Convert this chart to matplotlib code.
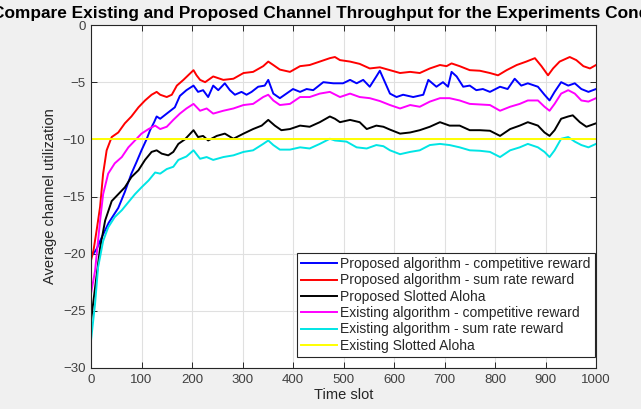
import numpy as np
import matplotlib
matplotlib.use("Agg")
import matplotlib.pyplot as plt

plt.rcParams['font.family'] = ['Liberation Sans', 'DejaVu Sans']

# ---- averaged channel utilization per time slot ----
t_red = [0, 5, 11, 18, 24, 31, 41, 54, 67, 80, 94, 107, 120, 130, 137, 150, 160, 170, 183,
         203, 209, 216, 226, 242, 262, 282, 302, 321, 341, 351, 361, 374, 394, 414, 433, 453,
         473, 483, 493, 513, 532, 552, 572, 592, 612, 632, 651, 671, 691, 704, 714, 730, 750,
         770, 790, 806, 823, 843, 862, 879, 892, 905, 915, 928, 948, 961, 975, 988, 1000]
prop_sum_rate = [-20.6, -19.7, -18.0, -15.9, -13.0, -10.96, -9.8, -9.4, -8.6, -8.0, -7.2, -6.6,
                 -6.1, -5.85, -6.1, -6.3, -6.1, -5.3, -4.8,
                 -3.95, -4.4, -4.8, -5.0, -4.5, -4.8, -4.7, -4.2, -4.1, -3.6, -3.2, -3.5, -3.9,
                 -4.1, -3.6, -3.5, -3.2, -2.9, -2.8, -3.07, -3.2, -3.4, -3.8, -3.7, -3.95, -4.2,
                 -4.1, -4.2, -3.8, -3.5, -3.6, -3.36, -3.6, -3.95, -4.0, -4.2, -4.4, -3.95, -3.5,
                 -3.2, -2.9, -3.6, -4.4, -3.8, -3.2, -2.8, -3.07, -3.6, -3.8, -3.5]

t_blue = [0, 5, 11, 21, 35, 54, 67, 80, 90, 100, 110, 117, 125, 130, 137, 150, 166, 176, 189,
          203, 212, 222, 232, 242, 252, 265, 275, 285, 298, 308, 318, 331, 344, 351, 361, 374,
          387, 400, 414, 427, 440, 460, 480, 499, 513, 526, 539, 552, 565, 572, 582, 592, 605,
          618, 638, 658, 668, 684, 697, 707, 714, 724, 737, 750, 763, 776, 790, 810, 825, 839,
          852, 865, 885, 898, 908, 918, 931, 945, 958, 971, 985, 1000]
prop_competitive = [-20.2, -20.0, -19.6, -18.6, -17.3, -16.0, -14.6, -13.0, -12.0, -10.96, -10.0,
                    -9.2, -8.5, -8.0, -8.2, -7.75, -7.2, -6.2, -5.7,
                    -5.3, -5.85, -5.7, -6.3, -5.3, -5.7, -5.1, -5.7, -6.1, -5.85, -6.1, -5.85,
                    -5.4, -5.3, -4.8, -6.0, -6.4, -6.0, -5.6, -5.85, -5.6, -5.7, -5.0, -5.1,
                    -5.1, -4.8, -5.1, -4.8, -5.4, -4.5, -4.0, -5.0, -6.0, -6.3, -6.1, -6.3, -6.1,
                    -4.8, -5.4, -5.0, -5.4, -4.1, -4.5, -5.4, -5.3, -5.7, -5.6, -5.85, -5.4,
                    -5.6, -4.7, -5.3, -5.1, -5.4, -6.1, -6.6, -5.85, -5.0, -5.3, -5.1, -5.6,
                    -5.85, -5.6]

t_black = [0, 8, 18, 28, 41, 54, 67, 80, 94, 107, 120, 130, 140, 153, 163, 173, 186, 203, 212,
           222, 232, 249, 265, 282, 302, 321, 338, 351, 364, 377, 394, 414, 433, 453, 473, 483,
           493, 513, 532, 546, 565, 579, 592, 612, 632, 651, 671, 691, 710, 730, 750, 770, 790,
           810, 830, 849, 865, 885, 898, 908, 918, 931, 945, 954, 968, 981, 1000]
prop_aloha = [-25.9, -23.0, -19.5, -17.1, -15.4, -14.8, -14.2, -13.3, -12.7, -11.8, -11.1, -10.96,
              -11.25, -11.4, -11.1, -10.4, -10.0, -9.2, -9.8, -9.7, -10.1, -9.7, -9.5, -9.95,
              -9.5, -9.1, -8.8, -8.3, -8.8, -9.2, -9.1, -8.8, -8.9, -8.5, -8.0, -8.2, -8.5, -8.3,
              -8.5, -9.1, -8.8, -8.9, -9.15, -9.5, -9.4, -9.2, -8.9, -8.5, -8.8, -8.8, -9.2,
              -9.2, -9.25, -9.7, -9.1, -8.8, -8.5, -8.8, -9.4, -9.7, -9.2, -8.2, -8.0, -7.9,
              -8.5, -8.9, -8.6]

t_mag = [0, 8, 18, 24, 34, 47, 61, 74, 87, 100, 114, 127, 137, 150, 163, 176, 189, 203, 216,
         229, 242, 262, 282, 302, 321, 341, 351, 361, 374, 394, 414, 433, 453, 473, 493, 513,
         532, 552, 572, 592, 612, 632, 651, 671, 691, 710, 730, 750, 770, 790, 810, 830, 849,
         865, 885, 898, 908, 918, 931, 945, 958, 971, 985, 1000]
exist_competitive = [-23.5, -21.5, -17.1, -14.8, -13.0, -12.1, -11.55, -10.7, -10.1, -9.5, -9.1,
                     -8.8, -9.1, -8.9, -8.3, -7.75, -7.3, -6.9, -7.5, -7.3, -7.75, -7.5, -7.3,
                     -7.0, -6.9, -6.3, -6.1, -6.6, -7.0, -6.9, -6.3, -6.3, -6.0, -5.85, -6.3,
                     -6.0, -6.3, -6.4, -6.65, -7.0, -7.3, -7.0, -7.15, -6.7, -6.4, -6.4, -6.6,
                     -6.9, -6.95, -7.0, -7.5, -7.15, -6.9, -6.6, -6.6, -7.15, -7.5, -6.9, -6.0,
                     -5.7, -6.0, -6.6, -6.7, -6.4]

t_cyan = [0, 8, 14, 24, 34, 47, 61, 74, 87, 100, 114, 127, 137, 150, 163, 173, 189, 203, 216,
          229, 242, 262, 282, 302, 321, 341, 351, 361, 374, 394, 414, 433, 453, 473, 483, 506,
          526, 546, 565, 579, 592, 612, 632, 651, 671, 691, 710, 730, 750, 770, 790, 810, 830,
          849, 865, 885, 898, 908, 918, 931, 945, 958, 971, 985, 1000]
exist_sum_rate = [-27.6, -24.4, -21.2, -18.9, -17.7, -16.8, -16.2, -15.5, -14.8, -14.2, -13.6,
                  -12.9, -13.0, -12.6, -12.4, -11.8, -11.5, -10.96, -11.7, -11.55, -11.8,
                  -11.55, -11.4, -11.1, -10.96, -10.4, -10.1, -10.5, -10.9, -10.9, -10.7,
                  -10.8, -10.4, -9.95, -10.1, -10.2, -10.7, -10.8, -10.5, -10.6, -10.96,
                  -11.3, -11.1, -10.96, -10.5, -10.4, -10.5, -10.7, -10.96, -11.0, -11.1,
                  -11.55, -10.96, -10.7, -10.4, -10.7, -11.1, -11.55, -10.96, -9.95, -9.8,
                  -10.2, -10.5, -10.7, -10.4]

t_yellow = [0, 1000]
exist_aloha = [-10, -10]

labels = ['Proposed algorithm - competitive reward',
          'Proposed algorithm - sum rate reward',
          'Proposed Slotted Aloha',
          'Existing algorithm - competitive reward',
          'Existing algorithm - sum rate reward',
          'Existing Slotted Aloha']

# ---- figure ----
fig = plt.figure(figsize=(6.41, 4.09), dpi=100, facecolor='#f0f0f0')
ax = fig.add_axes([91 / 641, 1 - 368 / 409, 505 / 641, 343 / 409])
ax.set_facecolor('white')

lw = 1.4
ax.plot(t_blue, prop_competitive, color='#0000ff', lw=lw, label=labels[0])
ax.plot(t_red, prop_sum_rate, color='#ff0000', lw=lw, label=labels[1])
ax.plot(t_black, prop_aloha, color='#000000', lw=lw, label=labels[2])
ax.plot(t_mag, exist_competitive, color='#ff00ff', lw=lw, label=labels[3])
ax.plot(t_cyan, exist_sum_rate, color='#00e5e5', lw=lw, label=labels[4])
ax.plot(t_yellow, exist_aloha, color='#ffff00', lw=lw, label=labels[5])

ax.set_xlim(0, 1000)
ax.set_ylim(-30, 0)
ax.set_xticks(np.arange(0, 1001, 100))
ax.set_yticks(np.arange(-30, 1, 5))
ax.grid(True, color='#e0e0e0', linewidth=0.8)
ax.set_axisbelow(True)
ax.tick_params(direction='in', top=True, right=True, length=4, width=0.7,
               color='#262626', labelcolor='#404040', labelsize=9.5, pad=4)
for s in ax.spines.values():
    s.set_color('#262626')
    s.set_linewidth(0.8)

ax.set_xlabel('Time slot', fontsize=10.5, color='#262626', labelpad=2)
ax.set_ylabel('Average channel utilization', fontsize=10.5, color='#262626', labelpad=4)
# long title runs past both figure edges
ax.set_title('Compare Existing and Proposed Channel Throughput for the Experiments Conditions',
             fontsize=12.4, fontweight='bold', pad=5)

leg = ax.legend(loc='lower right', bbox_to_anchor=(0.998, 0.032), borderaxespad=0,
                fontsize=10, handlelength=2.6, handletextpad=0.25, labelspacing=0.17,
                borderpad=0.3, fancybox=False, framealpha=1, edgecolor='#262626')
leg.get_frame().set_linewidth(0.8)
for txt in leg.get_texts():
    txt.set_color('#262626')

fig.savefig('out.png', dpi=100, facecolor=fig.get_facecolor())
